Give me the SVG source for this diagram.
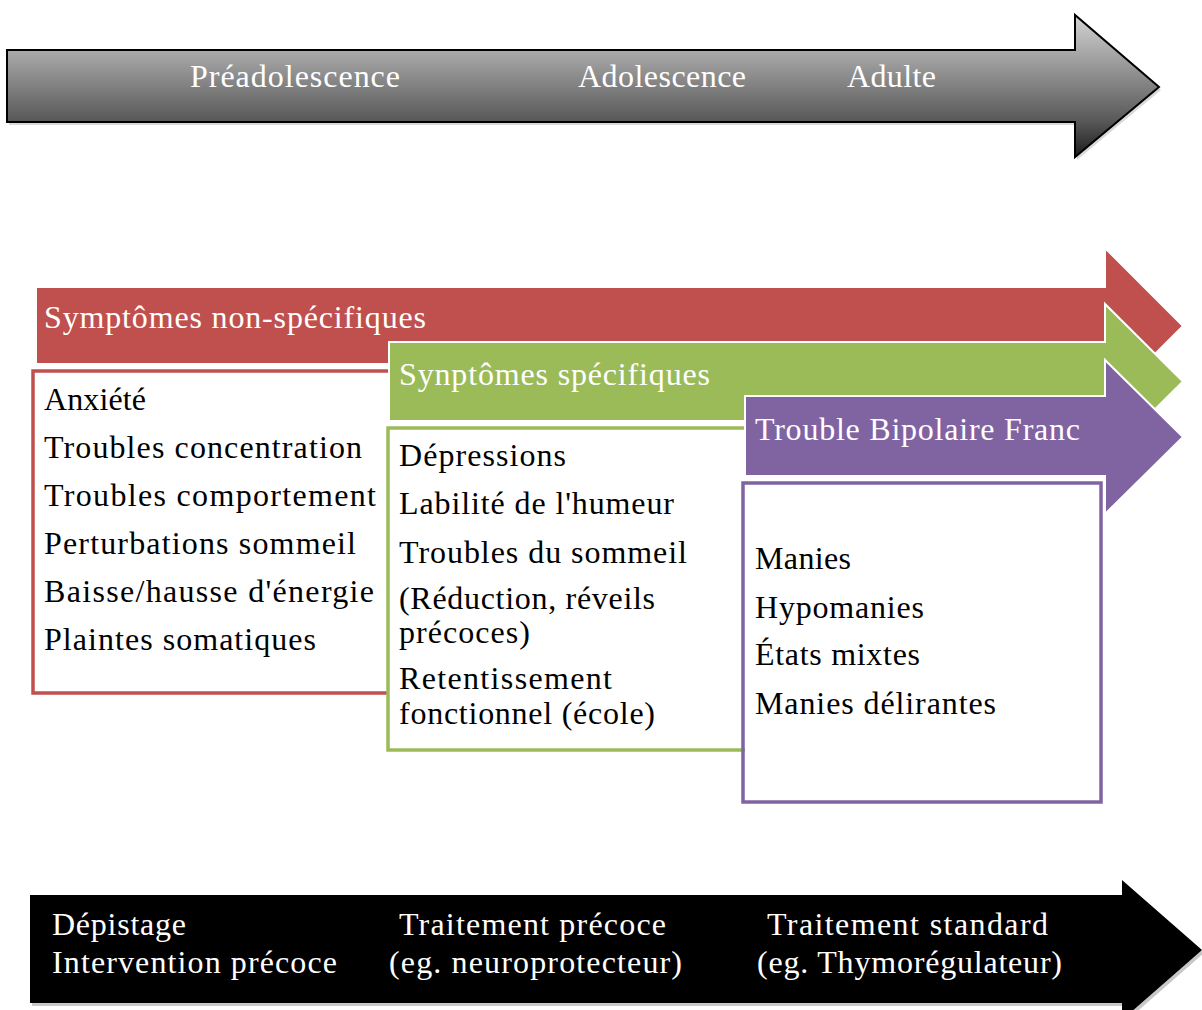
<svg xmlns="http://www.w3.org/2000/svg" width="1202" height="1010" viewBox="0 0 1202 1010">
<defs>
<linearGradient id="gTop" gradientUnits="userSpaceOnUse" x1="0" y1="15" x2="0" y2="157">
<stop offset="0" stop-color="#d4d4d4"/>
<stop offset="0.246" stop-color="#ababab"/>
<stop offset="0.754" stop-color="#575757"/>
<stop offset="1" stop-color="#1c1c1c"/>
</linearGradient>
<style>
text{font-family:"Liberation Serif","DejaVu Serif",serif;font-size:32px}
.w{fill:#ffffff}
.b{fill:#000000}
.arr{stroke:#ffffff;stroke-width:2;stroke-linejoin:miter}
.box{fill:none;stroke-width:3.5}
</style>
</defs>
<rect width="1202" height="1010" fill="#ffffff"/>

<g id="timeline">
<path d="M9,53 H1077 V18 L1161,90 L1077,160 V125 H9 Z" fill="#d9d9d9"/>
<path d="M7,50 H1075 V15 L1159,87 L1075,157 V122 H7 Z" fill="url(#gTop)" stroke="#000" stroke-width="2"/>
<text class="w" x="190" y="87" textLength="210" lengthAdjust="spacing">Préadolescence</text>
<text class="w" x="578" y="87" textLength="168" lengthAdjust="spacing">Adolescence</text>
<text class="w" x="847" y="87" textLength="89" lengthAdjust="spacing">Adulte</text>
</g>

<g id="nonspecific-arrow">
<path class="arr" d="M36,287 H1105 V248 L1183,326 L1105,404 V364 H36 Z" fill="#c0504d"/>
<text class="w" x="44" y="328" textLength="382" lengthAdjust="spacing">Symptômes non-spécifiques</text>
</g>

<g id="nonspecific-box">
<rect x="33" y="371" width="356" height="322" fill="#ffffff"/>
<path class="box" d="M389,371 H33 V693 H389" stroke="#c0504d"/>
<text class="b" x="44" y="410" textLength="102" lengthAdjust="spacing">Anxiété</text>
<text class="b" x="44" y="458" textLength="318" lengthAdjust="spacing">Troubles concentration</text>
<text class="b" x="44" y="506" textLength="332" lengthAdjust="spacing">Troubles comportement</text>
<text class="b" x="44" y="554" textLength="312" lengthAdjust="spacing">Perturbations sommeil</text>
<text class="b" x="44" y="602" textLength="330" lengthAdjust="spacing">Baisse/hausse d'énergie</text>
<text class="b" x="44" y="650" textLength="272" lengthAdjust="spacing">Plaintes somatiques</text>
</g>

<g id="specific-arrow">
<path class="arr" d="M389,342 H1105 V304 L1183,381.5 L1105,459 V421 H389 Z" fill="#9bbb59"/>
<text class="w" x="399" y="385" textLength="311" lengthAdjust="spacing">Synptômes spécifiques</text>
</g>

<g id="specific-box">
<rect x="388" y="428" width="357" height="322" fill="#ffffff"/>
<path class="box" d="M746,428 H388 V750 H745" stroke="#9bbb59"/>
<text class="b" x="399" y="466" textLength="167" lengthAdjust="spacing">Dépressions</text>
<text class="b" x="399" y="514" textLength="275" lengthAdjust="spacing">Labilité de l'humeur</text>
<text class="b" x="399" y="563" textLength="288" lengthAdjust="spacing">Troubles du sommeil</text>
<text class="b" x="399" y="609" textLength="256" lengthAdjust="spacing">(Réduction, réveils</text>
<text class="b" x="399" y="643" textLength="131" lengthAdjust="spacing">précoces)</text>
<text class="b" x="399" y="689" textLength="213" lengthAdjust="spacing">Retentissement</text>
<text class="b" x="399" y="724" textLength="256" lengthAdjust="spacing">fonctionnel (école)</text>
</g>

<g id="bipolar-arrow">
<path class="arr" d="M745,396 H1105 V360 L1183,437 L1105,514 V476 H745 Z" fill="#8064a2"/>
<text class="w" x="755" y="440" textLength="325" lengthAdjust="spacing">Trouble Bipolaire Franc</text>
</g>

<g id="bipolar-box">
<rect class="box" x="743" y="483" width="358" height="319" fill="#ffffff" stroke="#8064a2"/>
<text class="b" x="755" y="569" textLength="96" lengthAdjust="spacing">Manies</text>
<text class="b" x="755" y="618" textLength="169" lengthAdjust="spacing">Hypomanies</text>
<text class="b" x="755" y="665" textLength="165" lengthAdjust="spacing">États mixtes</text>
<text class="b" x="755" y="714" textLength="241" lengthAdjust="spacing">Manies délirantes</text>
</g>

<g id="treatment-arrow">
<path d="M32,898 H1124 V883 L1204,953 L1124,1023 V1006 H32 Z" fill="#c8c8c8"/>
<path d="M30,895 H1122 V880 L1202,950 L1122,1020 V1003 H30 Z" fill="#000000"/>
<text class="w" x="52" y="935" textLength="134" lengthAdjust="spacing">Dépistage</text>
<text class="w" x="52" y="973" textLength="285" lengthAdjust="spacing">Intervention précoce</text>
<text class="w" x="399" y="935" textLength="267" lengthAdjust="spacing">Traitement précoce</text>
<text class="w" x="389" y="973" textLength="293" lengthAdjust="spacing">(eg. neuroprotecteur)</text>
<text class="w" x="767" y="935" textLength="281" lengthAdjust="spacing">Traitement standard</text>
<text class="w" x="757" y="973" textLength="305" lengthAdjust="spacing">(eg. Thymorégulateur)</text>
</g>

<g id="connectors"/>
</svg>
